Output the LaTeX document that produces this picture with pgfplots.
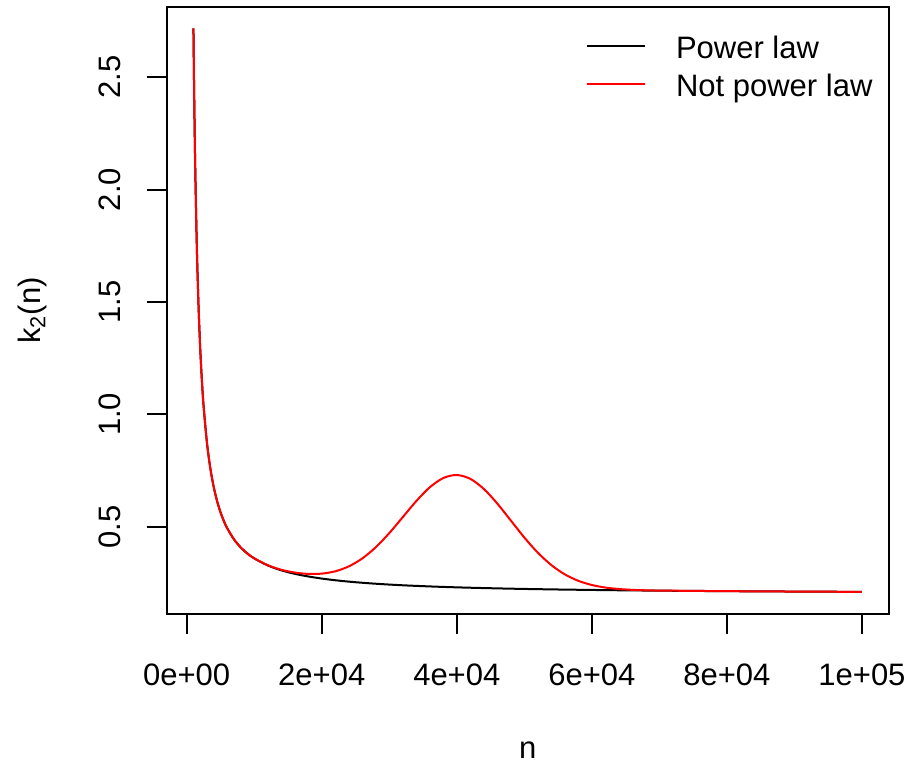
\documentclass[border=0pt]{standalone}
\usepackage{fontspec}
\setmainfont{Liberation Sans}
\usepackage{pgfplots}
\pgfplotsset{compat=1.18}
\newcommand{\fs}{\fontsize{15.5}{18.6}\selectfont}
\begin{document}
\begin{tikzpicture}
\begin{axis}[
  scale only axis, width=361pt, height=303.35pt,
  xmin=-2960, xmax=103960, ymin=0.1115, ymax=2.8115,
  axis line style={line width=1pt},
  tick style={line width=1pt, black},
  major tick length=10pt, tick align=outside, tick pos=left,
  xtick={0,20000,40000,60000,80000,100000},
  xticklabels={0e+00,2e+04,4e+04,6e+04,8e+04,1e+05},
  ytick={0.5,1,1.5,2,2.5},
  yticklabels={0.5,1.0,1.5,2.0,2.5},
  scaled x ticks=false,
  tick label style={font=\fs},
  xticklabel style={anchor=north, inner sep=0pt, yshift=-14.5pt},
  yticklabel style={xshift=-12.5pt, rotate=90, anchor=south, inner sep=0pt},
  xlabel={n},
  ylabel={k\textsubscript{2}(n)},
  label style={font=\fs},
  xlabel style={at={([yshift=-72pt]axis description cs:0.5,0)}, anchor=base, inner sep=0pt},
  ylabel style={at={([xshift=-63.3pt]axis description cs:0,0.5)}, anchor=base, inner sep=0pt},
  legend style={at={(axis description cs:0.5808,0.9046)}, anchor=west, draw=none, fill=none,
    inner sep=0pt, outer sep=0pt, font=\fs, row sep=7.15pt, column sep=0pt,
    nodes={inner sep=0pt, text height=12pt, text depth=0pt, anchor=west}},
  legend cell align=left,
  legend image code/.code={\draw[#1] (0pt,0pt) -- (29pt,0pt); \path[draw=none] (0pt,0pt) -- (44.5pt,0pt);},
]
\addplot[black, line width=1pt, smooth] coordinates {
(1000,2.718) (1100,2.4458) (1250,2.1265) (1500,1.7478) (1750,1.4867) (2000,1.2961)
(2250,1.1516) (2500,1.0385) (3000,0.8738) (3500,0.7600) (4000,0.6772) (4500,0.6142)
(5000,0.5651) (5500,0.5256) (6000,0.4934) (7000,0.4437) (8000,0.4077) (9000,0.3803)
(10000,0.3589) (12000,0.3277) (14000,0.3060) (16000,0.2904) (18000,0.2786) (20000,0.2692)
(22000,0.2617) (24000,0.2556) (26000,0.2505) (28000,0.2462) (30000,0.2425) (32000,0.2393)
(34000,0.2366) (36000,0.2342) (38000,0.2320) (40000,0.2301) (42000,0.2284) (44000,0.2269)
(46000,0.2255) (48000,0.2242) (50000,0.2230) (52000,0.2220) (54000,0.2210) (56000,0.2201)
(58000,0.2193) (60000,0.2185) (62000,0.2178) (64000,0.2171) (66000,0.2165) (68000,0.2159)
(70000,0.2154) (80000,0.2131) (90000,0.2114) (100000,0.2100)
};
\addlegendentry{Power law}
\addplot[red, line width=1pt, smooth] coordinates {
(1000,2.718) (1100,2.4458) (1250,2.1265) (1500,1.7478) (1750,1.4867) (2000,1.2961)
(2250,1.1516) (2500,1.0385) (3000,0.8738) (3500,0.7600) (4000,0.6772) (4500,0.6142)
(5000,0.5651) (5500,0.5256) (6000,0.4934) (7000,0.4437) (8000,0.4077) (9000,0.3803)
(10000,0.3593) (12000,0.3288) (14000,0.3085) (16000,0.2960) (18000,0.2900) (20000,0.2912)
(22000,0.3015) (24000,0.3233) (26000,0.3587) (28000,0.4085) (30000,0.4714) (32000,0.5426)
(34000,0.6140) (36000,0.6754) (38000,0.7166) (40000,0.7301) (42000,0.7130) (44000,0.6681)
(46000,0.6029) (48000,0.5275) (50000,0.4519) (52000,0.3843) (54000,0.3292) (56000,0.2878)
(58000,0.2591) (60000,0.2405) (62000,0.2292) (64000,0.2227) (66000,0.2190) (68000,0.2170)
(70000,0.2158) (80000,0.2131) (90000,0.2114) (100000,0.2100)
};
\addlegendentry{Not power law}
\end{axis}
\pgfresetboundingbox
\path[use as bounding box] (-83.35pt,-75pt) rectangle (371.15pt,307pt);
\end{tikzpicture}
\end{document}
